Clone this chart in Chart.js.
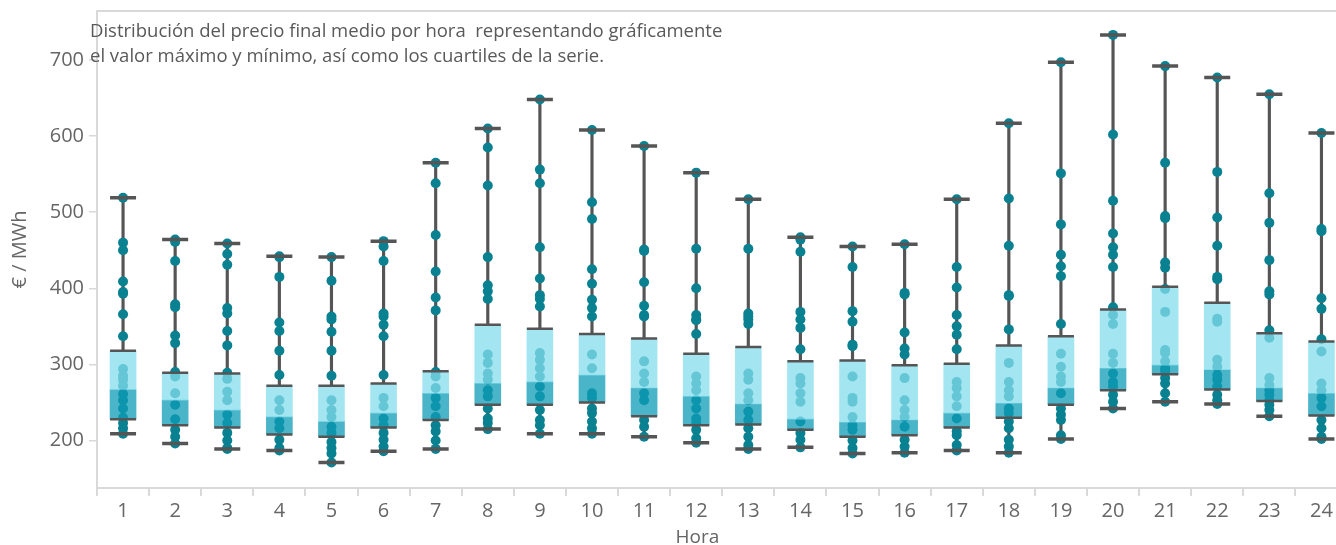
<!DOCTYPE html>
<html lang="es">
<head>
<meta charset="utf-8">
<title>Precio final medio por hora</title>
<script src="https://cdn.jsdelivr.net/npm/chart.js@4.4.1/dist/chart.umd.min.js"></script>
<style>
    html, body { margin: 0; padding: 0; background: #fff; overflow: hidden; }
    /* Plot runs past the right edge of the window, as in the original view. */
    #wrap { position: absolute; left: 0; top: -6px; width: 1364px; height: 556px; }
    .label {
        position: absolute; font-family: 'Open Sans', sans-serif;
        white-space: pre; pointer-events: none;
    }
    #note { left: 90px; top: 17px; font-size: 18.5px; line-height: 25px; color: #595959; }
    #x-title { left: 0; width: 1395px; top: 524px; font-size: 19px; line-height: 24px; color: #666; text-align: center; }
</style>
</head>
<body>
<div id="wrap"><canvas id="box-chart"></canvas></div>
<div id="note" class="label">Distribución del precio final medio por hora  representando gráficamente
el valor máximo y mínimo, así como los cuartiles de la serie.</div>
<div id="x-title" class="label">Hora</div>
<script>
// Hours on the x axis and the five-number summary for each one (€/MWh).
const HOURS = ['1','2','3','4','5','6','7','8','9','10','11','12','13','14','15','16','17','18','19','20','21','22','23','24'];
const MINS    = [209, 196, 189, 187, 171, 186, 189, 215, 209, 209, 205, 197, 189, 191, 183, 184, 187, 184, 202, 242, 251, 248, 232, 202];
const Q1S     = [228, 220, 217, 208, 205, 217, 227, 247, 247, 250, 232, 220, 221, 214, 205, 207, 217, 230, 247, 266, 287, 267, 252, 233];
const MEDIANS = [267, 253, 240, 231, 225, 236, 262, 275, 277, 286, 269, 258, 248, 228, 224, 227, 236, 249, 269, 295, 299, 293, 269, 262];
const Q3S     = [318, 289, 288, 272, 272, 275, 291, 352, 347, 340, 334, 314, 323, 304, 305, 299, 301, 325, 337, 372, 402, 381, 341, 330];
const MAXS    = [519, 464, 459, 442, 441, 462, 565, 610, 648, 608, 587, 552, 517, 467, 455, 458, 517, 617, 697, 733, 692, 677, 655, 604];
const Y_TICKS = [200, 300, 400, 500, 600, 700];

// Daily values per hour.
const DAYS = [
    [519, 460, 450, 409, 395, 393, 366, 337, 294, 285, 280, 272, 261, 253, 242, 230, 223, 216, 209],
    [464, 461, 436, 379, 375, 338, 328, 290, 284, 262, 247, 228, 214, 205, 196],
    [459, 445, 431, 374, 367, 344, 325, 289, 281, 264, 253, 234, 223, 210, 200, 190, 189],
    [442, 441, 415, 355, 344, 318, 286, 253, 240, 225, 216, 201, 190, 187],
    [441, 410, 363, 359, 343, 318, 285, 253, 240, 231, 218, 210, 198, 190, 183, 171],
    [462, 455, 436, 367, 363, 352, 337, 286, 256, 245, 229, 220, 210, 201, 192, 186],
    [565, 538, 470, 422, 388, 371, 290, 284, 269, 256, 245, 231, 220, 212, 200, 189],
    [610, 585, 535, 441, 404, 396, 386, 313, 302, 288, 280, 266, 258, 242, 229, 223, 215],
    [648, 556, 538, 454, 413, 391, 386, 376, 315, 306, 295, 284, 271, 258, 240, 227, 220, 209],
    [608, 513, 491, 425, 406, 385, 374, 363, 313, 295, 262, 256, 242, 236, 225, 216, 209],
    [587, 451, 449, 408, 377, 365, 363, 304, 288, 277, 262, 253, 227, 218, 205],
    [552, 452, 400, 365, 359, 358, 340, 284, 275, 266, 253, 242, 229, 223, 214, 203, 197],
    [517, 452, 367, 363, 359, 353, 288, 280, 262, 253, 238, 227, 216, 205, 194, 189],
    [467, 464, 448, 369, 359, 348, 320, 282, 275, 262, 251, 225, 210, 201, 191],
    [455, 428, 370, 356, 326, 324, 284, 256, 251, 231, 220, 214, 200, 190, 183],
    [458, 394, 392, 342, 321, 313, 282, 253, 240, 231, 218, 201, 192, 184],
    [517, 428, 401, 365, 350, 339, 320, 277, 269, 258, 245, 229, 212, 207, 194, 187],
    [617, 518, 456, 391, 390, 346, 302, 277, 266, 258, 242, 236, 225, 216, 201, 192, 184],
    [697, 551, 484, 444, 429, 416, 353, 314, 297, 284, 277, 262, 242, 234, 227, 207, 202],
    [733, 602, 515, 472, 454, 444, 428, 375, 365, 353, 314, 302, 288, 277, 271, 260, 251, 242],
    [692, 565, 495, 492, 434, 427, 399, 369, 319, 315, 304, 295, 291, 282, 275, 262, 251],
    [677, 553, 493, 456, 415, 412, 360, 356, 306, 297, 286, 280, 271, 260, 253, 248],
    [655, 525, 486, 437, 396, 392, 345, 335, 282, 273, 266, 260, 253, 247, 240, 232],
    [604, 478, 475, 387, 373, 333, 317, 275, 266, 256, 245, 227, 216, 205, 202],
];

const LINE_GREY = '#555555';
const AXIS_GREY = '#d9d9d9';
const TEXT_GREY = '#666666';
const FONT = "'Open Sans', sans-serif";

// Thin line along the top edge of the plot, like the original frame.
const topFrame = {
    id: 'topFrame',
    afterDraw(chart) {
        const { ctx, chartArea: a } = chart;
        ctx.save();
        ctx.strokeStyle = AXIS_GREY;
        ctx.lineWidth = 2;
        ctx.beginPath();
        ctx.moveTo(a.left, a.top);
        ctx.lineTo(a.right, a.top);
        ctx.stroke();
        ctx.restore();
    },
};

function pointsAt(...series) {
    return HOURS.flatMap((h, i) => series.map(s => ({ x: h, y: s[i] })));
}

function renderBoxChart() {
    const canvas = document.getElementById('box-chart');

    const dots = HOURS.flatMap((h, i) => DAYS[i].map(v => ({ x: h, y: v })));

    new Chart(canvas, {
        type: 'bar',
        data: {
            labels: HOURS,
            datasets: [
                {
                    type: 'line', label: 'caps', order: 0,
                    data: pointsAt(MINS, MAXS),
                    showLine: false, pointStyle: 'line', pointRadius: 13, pointHoverRadius: 13,
                    pointBorderColor: LINE_GREY, pointBorderWidth: 3.5, pointHoverBorderWidth: 3.5,
                },
                {
                    type: 'line', label: 'quartiles', order: 1,
                    data: pointsAt(Q1S, Q3S),
                    showLine: false, pointStyle: 'line', pointRadius: 13, pointHoverRadius: 13,
                    pointBorderColor: LINE_GREY, pointBorderWidth: 2.5, pointHoverBorderWidth: 2.5,
                },
                {
                    label: 'Q3 - mediana', order: 2, grouped: false, barThickness: 26,
                    data: HOURS.map((_, i) => [MEDIANS[i], Q3S[i]]),
                    backgroundColor: 'rgba(132, 221, 237, 0.75)', borderWidth: 0,
                },
                {
                    label: 'mediana - Q1', order: 2, grouped: false, barThickness: 26,
                    data: HOURS.map((_, i) => [Q1S[i], MEDIANS[i]]),
                    backgroundColor: 'rgba(13, 156, 183, 0.75)', borderWidth: 0,
                },
                {
                    type: 'line', label: 'días', order: 3,
                    data: dots,
                    showLine: false, pointRadius: 5, pointHoverRadius: 5,
                    pointBackgroundColor: '#0a8191', pointBorderWidth: 0,
                },
                {
                    label: 'bigote inferior', order: 4, grouped: false, barThickness: 2.5,
                    data: HOURS.map((_, i) => [MINS[i], Q1S[i]]),
                    backgroundColor: LINE_GREY, borderWidth: 0,
                },
                {
                    label: 'bigote superior', order: 4, grouped: false, barThickness: 2.5,
                    data: HOURS.map((_, i) => [Q3S[i], MAXS[i]]),
                    backgroundColor: LINE_GREY, borderWidth: 0,
                },
            ],
        },
        options: {
            responsive: true,
            maintainAspectRatio: false,
            animation: false,
            events: [],
            layout: { padding: { top: 11, left: 0, right: 0, bottom: 0 } },
            plugins: { legend: { display: false }, tooltip: { enabled: false } },
            scales: {
                x: {
                    offset: true,
                    grid: { offset: true, drawOnChartArea: false, drawTicks: true, tickLength: 8, color: AXIS_GREY, lineWidth: 2 },
                    border: { display: true, color: AXIS_GREY, width: 2 },
                    ticks: { color: TEXT_GREY, font: { family: FONT, size: 20 }, padding: 3, maxRotation: 0, autoSkip: false },
                    afterFit: s => { s.height = 62; },
                },
                y: {
                    min: 137.6,
                    max: 764.4,
                    afterBuildTicks: s => { s.ticks = Y_TICKS.map(v => ({ value: v })); },
                    grid: { drawOnChartArea: false, drawTicks: true, tickLength: 8, color: AXIS_GREY, lineWidth: 1.5 },
                    border: { display: true, color: AXIS_GREY, width: 2 },
                    ticks: { color: TEXT_GREY, font: { family: FONT, size: 20 }, padding: 5 },
                    title: { display: true, text: '€ / MWh', color: TEXT_GREY, font: { family: FONT, size: 20 }, padding: { top: 8, bottom: 0 } },
                    afterFit: s => { s.width = 97; },
                },
            },
        },
        plugins: [topFrame],
    });
}

document.addEventListener('DOMContentLoaded', renderBoxChart);
</script>
</body>
</html>
